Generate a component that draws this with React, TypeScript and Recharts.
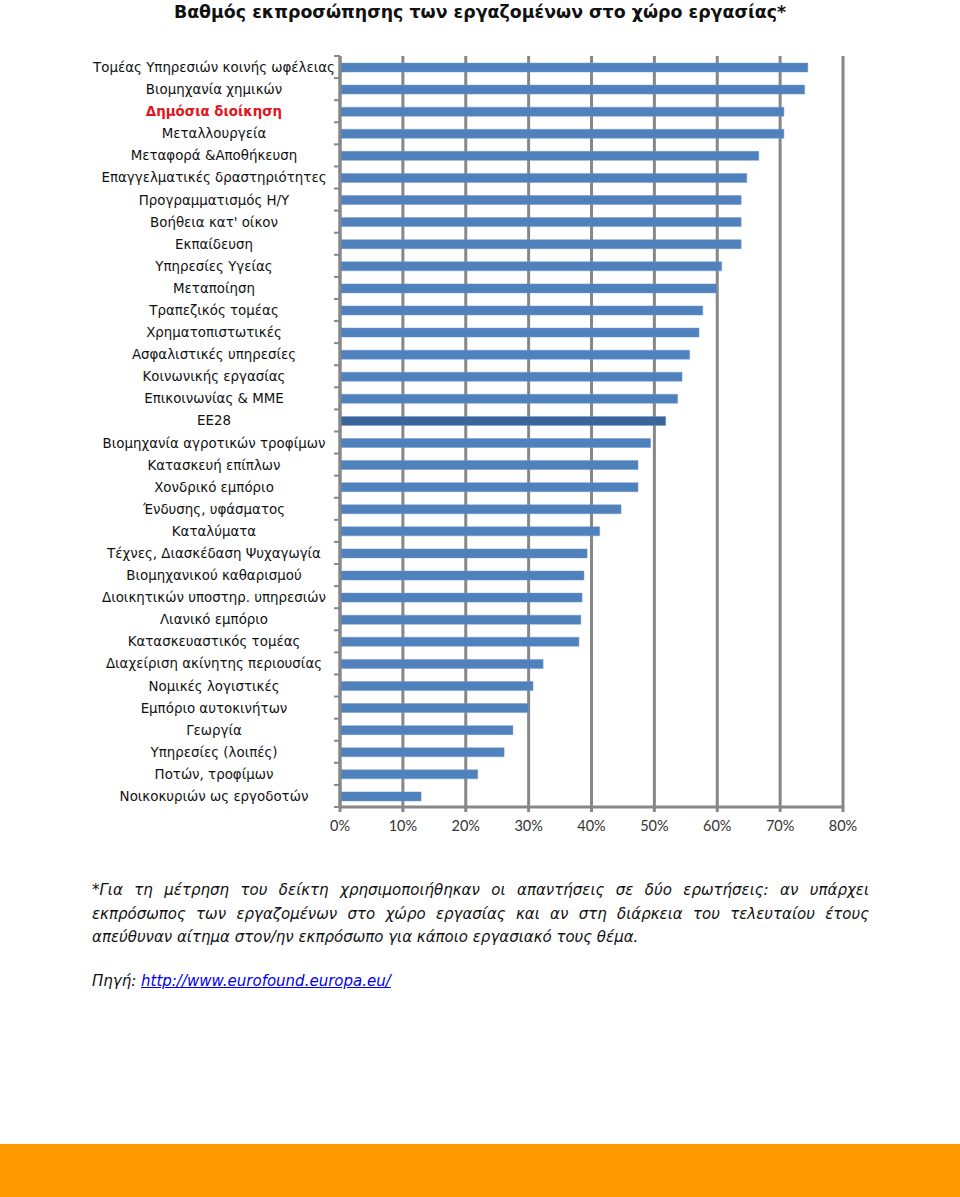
import React from "react";
import { BarChart, Bar, XAxis, YAxis, CartesianGrid, Cell } from "recharts";

const SECTORS = [
  "Τομέας Υπηρεσιών κοινής ωφέλειας",
  "Βιομηχανία χημικών",
  "Δημόσια διοίκηση",
  "Μεταλλουργεία",
  "Μεταφορά &Αποθήκευση",
  "Επαγγελματικές  δραστηριότητες",
  "Προγραμματισμός Η/Υ",
  "Βοήθεια κατ' οίκον",
  "Εκπαίδευση",
  "Υπηρεσίες Υγείας",
  "Μεταποίηση",
  "Τραπεζικός τομέας",
  "Χρηματοπιστωτικές",
  "Ασφαλιστικές υπηρεσίες",
  "Κοινωνικής εργασίας",
  "Επικοινωνίας & ΜΜΕ",
  "ΕΕ28",
  "Βιομηχανία αγροτικών τροφίμων",
  "Κατασκευή επίπλων",
  "Χονδρικό εμπόριο",
  "Ένδυσης, υφάσματος",
  "Καταλύματα",
  "Τέχνες, Διασκέδαση Ψυχαγωγία",
  "Βιομηχανικού καθαρισμού",
  "Διοικητικών υποστηρ. υπηρεσιών",
  "Λιανικό εμπόριο",
  "Κατασκευαστικός τομέας",
  "Διαχείριση ακίνητης περιουσίας",
  "Νομικές λογιστικές",
  "Εμπόριο αυτοκινήτων",
  "Γεωργία",
  "Υπηρεσίες (λοιπές)",
  "Ποτών, τροφίμων",
  "Νοικοκυριών ως εργοδοτών",
];

const SHARES = [
  0.744, 0.739, 0.706, 0.706, 0.666, 0.647, 0.638, 0.638, 0.638, 0.607,
  0.599, 0.577, 0.571, 0.556, 0.544, 0.537, 0.518, 0.494, 0.474, 0.474,
  0.447, 0.413, 0.393, 0.388, 0.385, 0.383, 0.38, 0.323, 0.307, 0.3,
  0.275, 0.261, 0.219, 0.129,
];

const X_TICKS = [0, 0.1, 0.2, 0.3, 0.4, 0.5, 0.6, 0.7, 0.8];

const HIGHLIGHT_LABEL = "Δημόσια διοίκηση";
const AVERAGE_LABEL = "ΕΕ28";

const NOTE_LINES = [
  "*Για τη μέτρηση του δείκτη χρησιμοποιήθηκαν οι απαντήσεις σε δύο ερωτήσεις: αν υπάρχει",
  "εκπρόσωπος των εργαζομένων στο χώρο εργασίας και αν στη διάρκεια του τελευταίου έτους",
  "απεύθυναν αίτημα στον/ην εκπρόσωπο για κάποιο εργασιακό τους θέμα.",
];

const data = SECTORS.map((s, i) => ({ sector: s, value: SHARES[i] }));

const GRID = "#878787";
const BLUE = "#4f81bd";
const DARK_BLUE = "#3a659b";

// plot box: y 56..807 -> band height
const PLOT_TOP = 56;
const PLOT_H = 751;
const AXIS_H = 43;
const BAND = PLOT_H / SECTORS.length;

function SectorTick(props: any) {
  const { y, payload, index } = props;
  const label = payload.value as string;
  const red = label === HIGHLIGHT_LABEL;
  const last = index === SECTORS.length - 1;
  return (
    <g>
      <line x1={334} x2={340} y1={y - BAND / 2} y2={y - BAND / 2} stroke={GRID} strokeWidth={2} />
      {last && (
        <line x1={334} x2={340} y1={y + BAND / 2} y2={y + BAND / 2} stroke={GRID} strokeWidth={2} />
      )}
      <text
        x={214}
        y={y + 5}
        textAnchor="middle"
        fontSize={13.4}
        fontWeight={red ? "bold" : "normal"}
        fill={red ? "#e3141b" : "#111"}
        fontFamily="'DejaVu Sans', Verdana, sans-serif"
      >
        {label}
      </text>
    </g>
  );
}

const noteStyle: React.CSSProperties = {
  fontStyle: "italic",
  fontSize: 15,
  lineHeight: "23.5px",
  color: "#111",
  whiteSpace: "nowrap",
  fontFamily: "'DejaVu Sans', Verdana, sans-serif",
};

export default function App() {
  return (
    <div
      style={{
        position: "absolute",
        left: 0,
        top: 0,
        width: 960,
        height: 1197,
        background: "#fff",
        fontFamily: "'DejaVu Sans', Verdana, sans-serif",
      }}
    >
      <div
        style={{
          position: "absolute",
          top: 0,
          left: 0,
          width: 960,
          textAlign: "center",
          fontWeight: "bold",
          fontSize: 17.4,
          lineHeight: "24px",
          color: "#111",
        }}
      >
        Βαθμός εκπροσώπησης των εργαζομένων στο χώρο εργασίας*
      </div>

      <div style={{ position: "absolute", top: 0, left: 0 }}>
        <BarChart
          width={960}
          height={PLOT_TOP + PLOT_H + AXIS_H}
          data={data}
          layout="vertical"
          margin={{ top: PLOT_TOP, right: 117, bottom: 0, left: 0 }}
          barCategoryGap={6}
        >
          <CartesianGrid horizontal={false} stroke={GRID} strokeWidth={3} />
          <XAxis
            type="number"
            domain={[0, 0.8]}
            ticks={X_TICKS}
            tickFormatter={(v) => `${Math.round(v * 100)}%`}
            axisLine={{ stroke: GRID, strokeWidth: 3 }}
            tickLine={{ stroke: GRID, strokeWidth: 3 }}
            tickSize={5}
            height={AXIS_H}
            tick={{ fill: "#333", fontSize: 14.5, dy: 7, fontFamily: "Lato, 'Open Sans', sans-serif" }}
          />
          <YAxis
            type="category"
            dataKey="sector"
            width={340}
            interval={0}
            tickLine={false}
            axisLine={{ stroke: GRID, strokeWidth: 3 }}
            tick={<SectorTick />}
          />
          <Bar dataKey="value" barSize={9} isAnimationActive={false} stroke="#6e98cf" strokeWidth={0.5}>
            {data.map((d) => (
              <Cell key={d.sector} fill={d.sector === AVERAGE_LABEL ? DARK_BLUE : BLUE} />
            ))}
          </Bar>
        </BarChart>
      </div>

      <div style={{ position: "absolute", top: 879, left: 92, width: 777 }}>
        {NOTE_LINES.map((line, i) => (
          <div
            key={i}
            style={{
              ...noteStyle,
              whiteSpace: "normal",
              textAlign: "justify",
              textAlignLast: i < NOTE_LINES.length - 1 ? "justify" : "left",
            }}
          >
            {line}
          </div>
        ))}
      </div>

      <div style={{ ...noteStyle, position: "absolute", top: 970, left: 92 }}>
        Πηγή: <span style={{ color: "#0000ee", textDecoration: "underline" }}>http://www.eurofound.europa.eu/</span>
      </div>

      <div
        style={{
          position: "absolute",
          top: 1144,
          left: 0,
          width: 960,
          height: 53,
          background: "#ff9900",
        }}
      />
    </div>
  );
}
